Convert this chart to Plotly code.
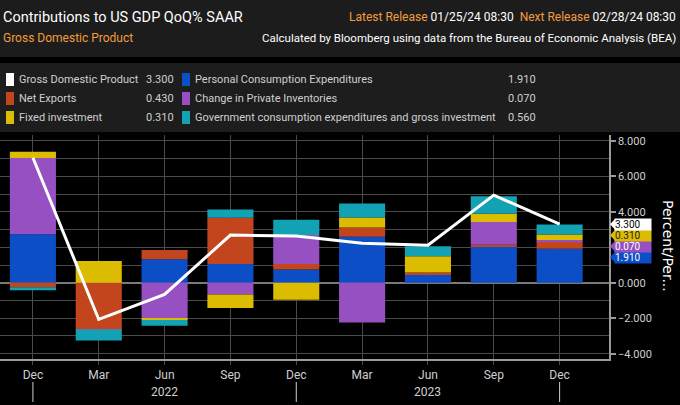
import plotly.graph_objects as go

# quarters (2021 Q4 .. 2023 Q4)
quarters = ["Dec", "Mar", "Jun", "Sep", "Dec", "Mar", "Jun", "Sep", "Dec"]
year_labels = ["2022", "2023"]
year_label_pos = [2, 6]
year_breaks = [0, 4, 8]

gdp = [7.05, -2.07, -0.66, 2.69, 2.63, 2.22, 2.12, 4.94, 3.30]
pce = [2.74, 0.00, 1.33, 1.05, 0.75, 2.59, 0.47, 2.01, 1.91]
net_exports = [-0.26, -2.61, 0.51, 2.61, 0.30, 0.53, 0.11, 0.13, 0.43]
inventories = [4.30, -0.03, -1.99, -0.66, 1.64, -2.24, 0.00, 1.28, 0.07]
fixed_inv = [0.34, 1.22, -0.11, -0.77, -0.96, 0.56, 0.92, 0.47, 0.31]
government = [-0.17, -0.62, -0.32, 0.47, 0.86, 0.79, 0.56, 0.98, 0.56]

y_ticks = [-4, -2, 0, 4, 6, 8]   # 2.000 sits under the value tags

BLUE = "#0b4ec6"
RED = "#c2451d"
PURPLE = "#9650c2"
YELLOW = "#dcbc00"
TEAL = "#12a2b4"
ORANGE = "#f39c3c"
GRID = "#4a4a4a"
TXT = "#cfcfcf"
FONT = "Roboto, Liberation Sans, sans-serif"

W, H = 680, 405
PL, PR, PT, PB = 0, 609, 135, 359   # plot area in pixels


def px(x):
    return (x - PL) / (PR - PL)


def py(y):
    return (PB - y) / (PB - PT)


x = list(range(len(quarters)))
fig = go.Figure()

series = [
    ("Personal Consumption Expenditures", pce, BLUE),
    ("Net Exports", net_exports, RED),
    ("Change in Private Inventories", inventories, PURPLE),
    ("Fixed investment", fixed_inv, YELLOW),
    ("Government consumption expenditures and gross investment", government, TEAL),
]
for name, vals, col in series:
    fig.add_trace(go.Bar(x=x, y=vals, name=name, marker=dict(color=col, line_width=0),
                         width=0.7, hoverinfo="skip"))

fig.add_trace(go.Scatter(x=x, y=gdp, mode="lines", name="Gross Domestic Product",
                         line=dict(color="white", width=3), hoverinfo="skip"))

shapes = []
annotations = []

# header panel and legend panel backgrounds
shapes.append(dict(type="rect", xref="paper", yref="paper", layer="below",
                   x0=px(0), x1=px(W), y0=py(0), y1=py(57),
                   fillcolor="#1c1c1c", line_width=0))
shapes.append(dict(type="rect", xref="paper", yref="paper", layer="below",
                   x0=px(0), x1=px(W), y0=py(63), y1=py(132),
                   fillcolor="#1d1d1d", line_width=0))


def note(text, x, y, size=12, color="white", anchor="left", family=FONT, **kw):
    annotations.append(dict(text=text, x=px(x), y=py(y), xref="paper", yref="paper",
                            xanchor=anchor, yanchor="middle", showarrow=False,
                            font=dict(size=size, color=color, family=family), **kw))


note("Contributions to US GDP QoQ% SAAR", 1, 17, size=14.5)
note("Gross Domestic Product", 1, 38, size=12, color=ORANGE)
note(f"<span style='color:{ORANGE}'>Latest Release</span> 01/25/24 08:30  "
     f"<span style='color:{ORANGE}'>Next Release</span> 02/28/24 08:30",
     678, 17, size=12, anchor="right")
note("Calculated by Bloomberg using data from the Bureau of Economic Analysis (BEA)",
     678, 38, size=11.5, anchor="right")

# legend block
legend_rows = [
    ("Gross Domestic Product", gdp[-1], "white", "Personal Consumption Expenditures", pce[-1], BLUE),
    ("Net Exports", net_exports[-1], RED, "Change in Private Inventories", inventories[-1], PURPLE),
    ("Fixed investment", fixed_inv[-1], YELLOW,
     "Government consumption expenditures and gross investment", government[-1], TEAL),
]
row_y = [79.5, 98.5, 117.5]
for (n1, v1, c1, n2, v2, c2), ry in zip(legend_rows, row_y):
    for sx, col in ((6, c1), (182, c2)):
        shapes.append(dict(type="rect", xref="paper", yref="paper",
                           x0=px(sx), x1=px(sx + 8), y0=py(ry - 6.5), y1=py(ry + 6.5),
                           fillcolor=col, line_width=0))
    note(n1, 17, ry, size=11, color=TXT)
    note(f"{v1:.3f}", 176, ry, size=11, color=TXT, anchor="right")
    note(n2, 193, ry, size=11, color=TXT)
    note(f"{v2:.3f}", 538, ry, size=11, color=TXT, anchor="right")

# year labels and separators under the x axis
for lab, pos in zip(year_labels, year_label_pos):
    annotations.append(dict(text=lab, x=pos, y=py(392), xref="x", yref="paper",
                            showarrow=False, yanchor="middle",
                            font=dict(size=12, color=TXT, family=FONT)))
for b in year_breaks:
    shapes.append(dict(type="line", xref="x", yref="paper", x0=b, x1=b,
                       y0=py(382), y1=py(402), line=dict(color=TXT, width=1)))

# last-value labels on the right axis, stacked just clear of each other
value_tags = [
    (pce[-1], 1.44, BLUE, "white"),
    (inventories[-1], 2.06, PURPLE, "white"),
    (fixed_inv[-1], 2.68, YELLOW, "#222222"),
    (gdp[-1], 3.3, "white", "black"),
]
for val, ypos, bg, fg in value_tags:
    shapes.append(dict(type="path", xref="paper", yref="y",
                       path=f"M {px(610)} {ypos} L {px(615)} {ypos + 0.3} "
                            f"L {px(615)} {ypos - 0.3} Z",
                       fillcolor=bg, line_width=0))
    annotations.append(dict(text=f"{val:.3f}", x=px(614), y=ypos, xref="paper", yref="y",
                            xanchor="left", yanchor="middle", showarrow=False,
                            bgcolor=bg, width=36, height=11, align="left", borderpad=0,
                            font=dict(size=10, color=fg, family=FONT)))

annotations.append(dict(text="Percent/Per...", x=px(668), y=py(246), xref="paper",
                        yref="paper", showarrow=False, textangle=90,
                        xanchor="center", yanchor="middle",
                        font=dict(size=14, color="white", family="DejaVu Sans")))

fig.update_layout(
    width=W, height=H,
    margin=dict(l=PL, r=W - PR, t=PT, b=H - PB),
    paper_bgcolor="black", plot_bgcolor="black",
    barmode="relative", bargap=0.3, showlegend=False,
    shapes=shapes, annotations=annotations,
    xaxis=dict(range=[-0.5, 8.75], tickvals=x, ticktext=quarters,
               showgrid=True, gridcolor=GRID, gridwidth=1,
               showline=True, linecolor="#9a9a9a", linewidth=1.5,
               ticks="outside", ticklen=4, tickcolor=GRID,
               tickfont=dict(size=12, color=TXT, family=FONT), fixedrange=True),
    yaxis=dict(range=[-4.3, 8.33], side="right", tickvals=y_ticks, tickformat=".3f",
               showgrid=True, gridcolor=GRID, gridwidth=1,
               minor=dict(dtick=1, showgrid=True, gridcolor=GRID, gridwidth=1),
               zeroline=True, zerolinecolor="#7a7a7a", zerolinewidth=1.5,
               showline=True, linecolor="#9a9a9a", linewidth=1.5,
               ticks="outside", ticklen=5, tickwidth=2, tickcolor="#9a9a9a",
               tickfont=dict(size=11, color=TXT, family=FONT), fixedrange=True),
)

# the page body keeps its default 8px margin otherwise
fig.write_html("out.html", config={"displayModeBar": False},
               post_script="document.body.style.margin='0';")
